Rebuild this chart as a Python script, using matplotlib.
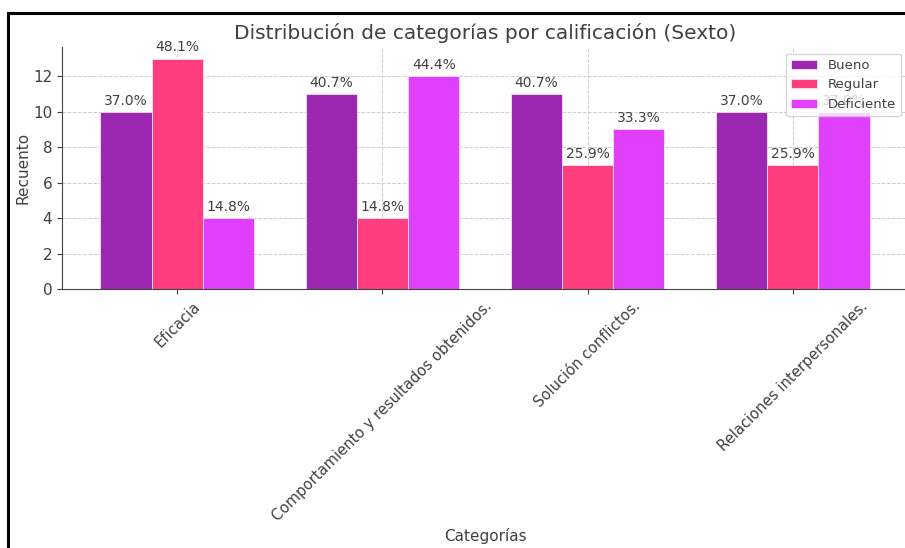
import matplotlib
matplotlib.use("Agg")
import matplotlib.pyplot as plt
from matplotlib.lines import Line2D
import numpy as np

categories = ["Eficacia", "Comportamiento y resultados obtenidos.",
              "Solución conflictos.", "Relaciones interpersonales."]
series_names = ["Bueno", "Regular", "Deficiente"]
bueno = [10, 11, 11, 10]
regular = [13, 4, 7, 7]
deficiente = [4, 12, 9, 10]
total_respondents = 27

colors = ["#9C27B0", "#FF3D7F", "#E040FB"]
text_color = "#404040"

plt.rcParams["font.family"] = ["DejaVu Sans"]
plt.rcParams["text.color"] = text_color
plt.rcParams["axes.labelcolor"] = text_color
plt.rcParams["xtick.color"] = text_color
plt.rcParams["ytick.color"] = text_color

W, H = 905, 548
fig = plt.figure(figsize=(W / 100, H / 100), dpi=100)
ax = fig.add_axes([62 / W, 1 - 289 / H, (908 - 62) / W, (289 - 47) / H])

x = np.arange(len(categories))
width = 0.25
all_series = [bueno, regular, deficiente]
for i, (name, vals, c) in enumerate(zip(series_names, all_series, colors)):
    pos = x + (i - 1) * width
    bars = ax.bar(pos, vals, width, label=name, color=c,
                  edgecolor="#f6e0f6", linewidth=0.6, zorder=2)
    for b, v in zip(bars, vals):
        ax.annotate(f"{v / total_respondents * 100:.1f}%",
                    (b.get_x() + b.get_width() / 2, v),
                    xytext=(0, 3), textcoords="offset points",
                    ha="center", va="bottom", fontsize=10, color=text_color)

ax.set_xticks(x)
ax.set_xticklabels(categories, rotation=45, ha="center", fontsize=10.6)
ax.set_yticks(range(0, 13, 2))
ax.tick_params(axis="y", labelsize=11)
ax.set_xlabel("Categorías", fontsize=11, labelpad=3)
ax.set_ylabel("Recuento", fontsize=11, labelpad=2)
ax.set_title("Distribución de categorías por calificación (Sexto)",
             fontsize=14.5, color=text_color, pad=6)

ax.grid(True, linestyle="--", color="#cccccc", linewidth=0.7, zorder=0)
ax.set_axisbelow(True)
for s in ["top", "right"]:
    ax.spines[s].set_visible(False)
for s in ["left", "bottom"]:
    ax.spines[s].set_color("#444444")

leg = ax.legend(loc="upper right", fontsize=9.5, framealpha=0.8)
leg.set_zorder(5)

# outer frame
fig.add_artist(Line2D([8 / W, 1], [1 - 13 / H, 1 - 13 / H],
                      transform=fig.transFigure, color="black", linewidth=2.2))
fig.add_artist(Line2D([8 / W, 8 / W], [0, 1 - 13 / H],
                      transform=fig.transFigure, color="black", linewidth=2.2))

fig.savefig("out.png", dpi=100)
